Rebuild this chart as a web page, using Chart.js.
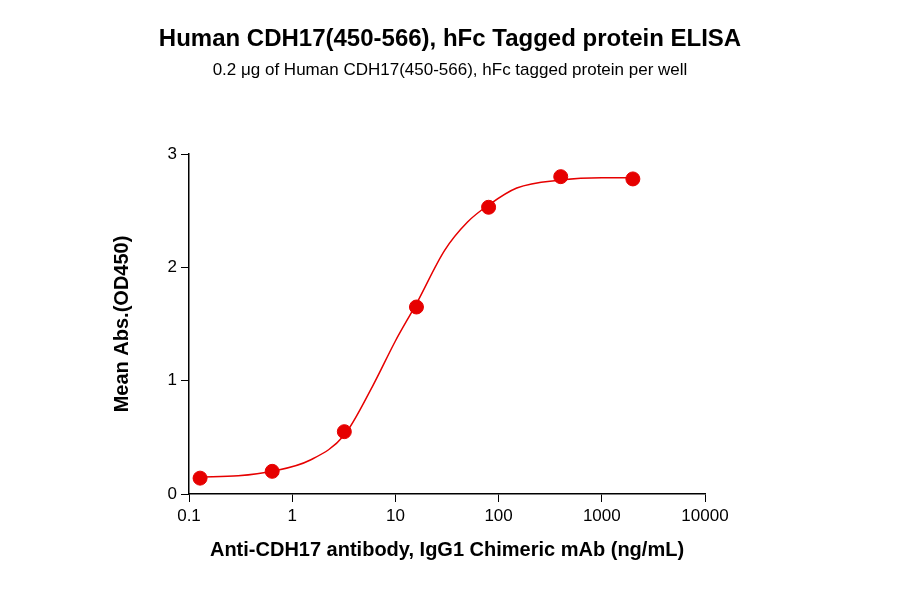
<!DOCTYPE html>
<html><head><meta charset="utf-8">
<script src="https://cdn.jsdelivr.net/npm/chart.js@4"></script>
<style>body{margin:0;background:#fff;font-family:Arial,"Liberation Sans",sans-serif}
#wrap{position:relative;width:900px;height:594px}
#t{position:absolute;top:24px;left:0;width:900px;text-align:center;font-weight:bold;font-size:24px;color:#000}
#s{position:absolute;top:60px;left:0;width:900px;text-align:center;font-size:17px;color:#000}
canvas{position:absolute;top:0;left:0}</style></head>
<body><div id="wrap"><canvas id="c" width="900" height="594"></canvas>
<div id="t">Human CDH17(450-566), hFc Tagged protein ELISA</div>
<div id="s">0.2 μg of Human CDH17(450-566), hFc tagged protein per well</div></div>
<script>
const concentrations=[0.128,0.64,3.2,16,80,400,2000];
const meanAbs=[0.14,0.20,0.55,1.65,2.53,2.80,2.78];
const curveX=[0.128,0.3,0.64,1.5,3.2,6,10,16,30,50,80,150,400,1000,2000];
const curveY=[0.15,0.16,0.20,0.30,0.52,0.95,1.35,1.68,2.15,2.40,2.55,2.70,2.77,2.79,2.79];
const xTicks=[0.1,1,10,100,1000,10000];
const yTicks=[0,1,2,3];
new Chart(document.getElementById('c'),{
 type:'scatter',
 data:{datasets:[
  {data:concentrations.map((x,i)=>({x,y:meanAbs[i]})),backgroundColor:'#e60000',borderColor:'#e60000',pointRadius:7,order:0},
  {data:curveX.map((x,i)=>({x,y:curveY[i]})),showLine:true,borderColor:'#e60000',borderWidth:1.5,pointRadius:0,cubicInterpolationMode:'monotone',order:1}
 ]},
 options:{responsive:false,animation:false,
  layout:{padding:{top:154,right:195,left:106,bottom:28}},
  plugins:{legend:{display:false},tooltip:{enabled:false}},
  scales:{
   x:{type:'logarithmic',min:0.1,max:10000,
    afterBuildTicks:s=>{s.ticks=xTicks.map(v=>({value:v}))},
    afterFit:s=>{s.height=72},
    ticks:{color:'#000',font:{size:17,family:'Arial'},padding:4,callback:v=>String(v)},
    grid:{display:true,drawOnChartArea:false,drawTicks:true,tickLength:8,color:'#000'},
    border:{display:true,color:'#000',width:1.5},
    title:{display:true,text:'Anti-CDH17 antibody, IgG1 Chimeric mAb (ng/mL)',color:'#000',font:{size:20,weight:'bold',family:'Arial'},padding:{top:4}}},
   y:{min:0,max:3,
    afterBuildTicks:s=>{s.ticks=yTicks.map(v=>({value:v}))},
    afterFit:s=>{s.width=83},
    ticks:{color:'#000',font:{size:17,family:'Arial'},padding:4},
    grid:{display:true,drawOnChartArea:false,drawTicks:true,tickLength:8,color:'#000'},
    border:{display:true,color:'#000',width:1.5},
    title:{display:true,text:'Mean Abs.(OD450)',color:'#000',font:{size:20,weight:'bold',family:'Arial'},padding:{bottom:4}}}
  }}
});
</script></body></html>
